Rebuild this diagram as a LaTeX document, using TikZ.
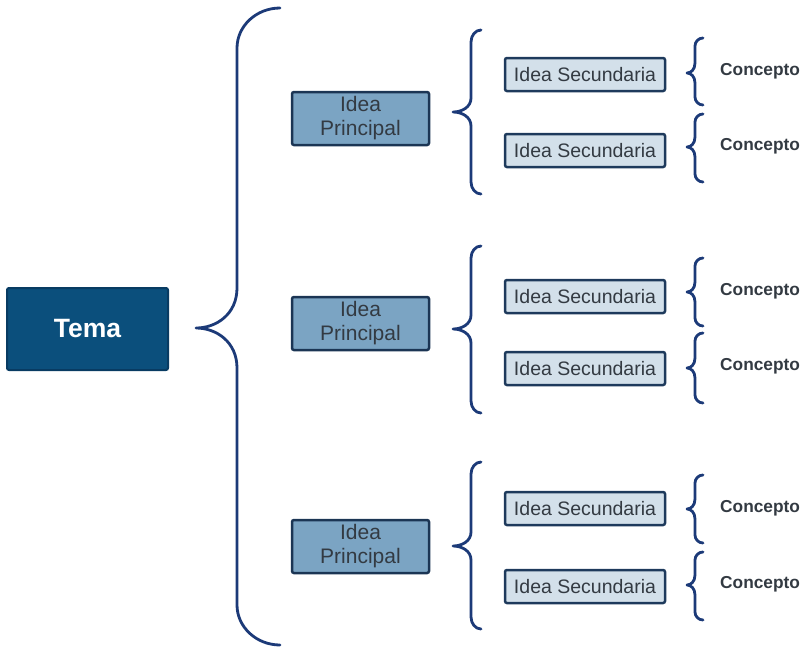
\documentclass[tikz,border=0pt]{standalone}
\usepackage{fontspec}
\setmainfont{Liberation Sans}
\definecolor{navy}{HTML}{1C3A78}
\definecolor{temafill}{HTML}{0B4F7C}
\definecolor{temaline}{HTML}{083B62}
\definecolor{ipfill}{HTML}{7BA4C3}
\definecolor{ipline}{HTML}{1B3554}
\definecolor{isfill}{HTML}{D3E0EA}
\definecolor{isline}{HTML}{1E3A5C}
\definecolor{txtgray}{HTML}{333A42}
\tikzset{
  bracestyle/.style={draw=navy, line width=2.8pt, line cap=round, line join=round},
  temabox/.style={draw=temaline, fill=temafill, line width=2pt, rounded corners=2pt,
    minimum width=161pt, minimum height=82pt, text=white, font=\fontsize{26.5}{30}\selectfont\bfseries, inner sep=0pt},
  ipbox/.style={draw=ipline, fill=ipfill, line width=2.5pt, rounded corners=2pt,
    minimum width=137pt, minimum height=53pt, text=txtgray, align=center,
    font=\fontsize{21}{24}\selectfont, inner sep=0pt},
  isbox/.style={draw=isline, fill=isfill, line width=2.5pt, rounded corners=2pt,
    minimum width=160pt, minimum height=33pt, text=txtgray,
    font=\fontsize{19.5}{22}\selectfont, inner sep=0pt},
  concepto/.style={anchor=west, text=txtgray, font=\fontsize{17.3}{20}\selectfont\bfseries, inner sep=0pt}
}
\newcommand\curlyb[8]{%
  \draw[bracestyle] (#1,#3) .. controls ({#2+0.45*(#1-#2)},#3) and (#2,{#3+0.45*#7}) .. (#2,{#3+#7})
    -- (#2,{#6-#8}) .. controls (#2,{#6-0.35*#8}) and ({#5+0.5*(#2-#5)},#6) .. (#5,#6)
    .. controls ({#5+0.5*(#2-#5)},#6) and (#2,{#6+0.35*#8}) .. (#2,{#6+#8})
    -- (#2,{#4-#7}) .. controls (#2,{#4-0.45*#7}) and ({#2+0.45*(#1-#2)},#4) .. (#1,#4);}
\begin{document}
\begin{tikzpicture}[x=1pt,y=-1pt]
\useasboundingbox (0,0) rectangle (803,649);
% Tema
\node[temabox] (tema) at (87.5,329) {Tema};
% big brace
\curlyb{280}{237}{8}{645}{196}{328}{40}{40}
% Idea principal
\node[ipbox] (ip1) at (360.5,118.5) {Idea\\Principal};
\node[ipbox] (ip2) at (360.5,323.5) {Idea\\Principal};
\node[ipbox] (ip3) at (360.5,546.5) {Idea\\Principal};
% medium braces
\curlyb{481}{471}{30}{194}{453}{112}{12}{14}
\curlyb{481}{471}{246}{413}{453}{329}{12}{14}
\curlyb{481}{471}{462}{629}{453}{546}{12}{14}
% Idea secundaria
\node[isbox] (is1) at (585,74.5) {Idea Secundaria};
\node[isbox] (is2) at (585,150.5) {Idea Secundaria};
\node[isbox] (is3) at (585,296.5) {Idea Secundaria};
\node[isbox] (is4) at (585,368.5) {Idea Secundaria};
\node[isbox] (is5) at (585,508.5) {Idea Secundaria};
\node[isbox] (is6) at (585,586.5) {Idea Secundaria};
% small braces
\curlyb{703}{695}{38}{105}{687}{73}{8}{10}
\curlyb{703}{695}{114}{182}{687}{147}{8}{10}
\curlyb{703}{695}{258}{326}{687}{292}{8}{10}
\curlyb{703}{695}{333}{403}{687}{368}{8}{10}
\curlyb{703}{695}{475}{543}{687}{509}{8}{10}
\curlyb{703}{695}{552}{620}{687}{585}{8}{10}
% Conceptos
\node[concepto] (c1) at (720,71) {Concepto};
\node[concepto] (c2) at (720,146) {Concepto};
\node[concepto] (c3) at (720,291) {Concepto};
\node[concepto] (c4) at (720,366) {Concepto};
\node[concepto] (c5) at (720,508) {Concepto};
\node[concepto] (c6) at (720,584) {Concepto};
\end{tikzpicture}
\end{document}
